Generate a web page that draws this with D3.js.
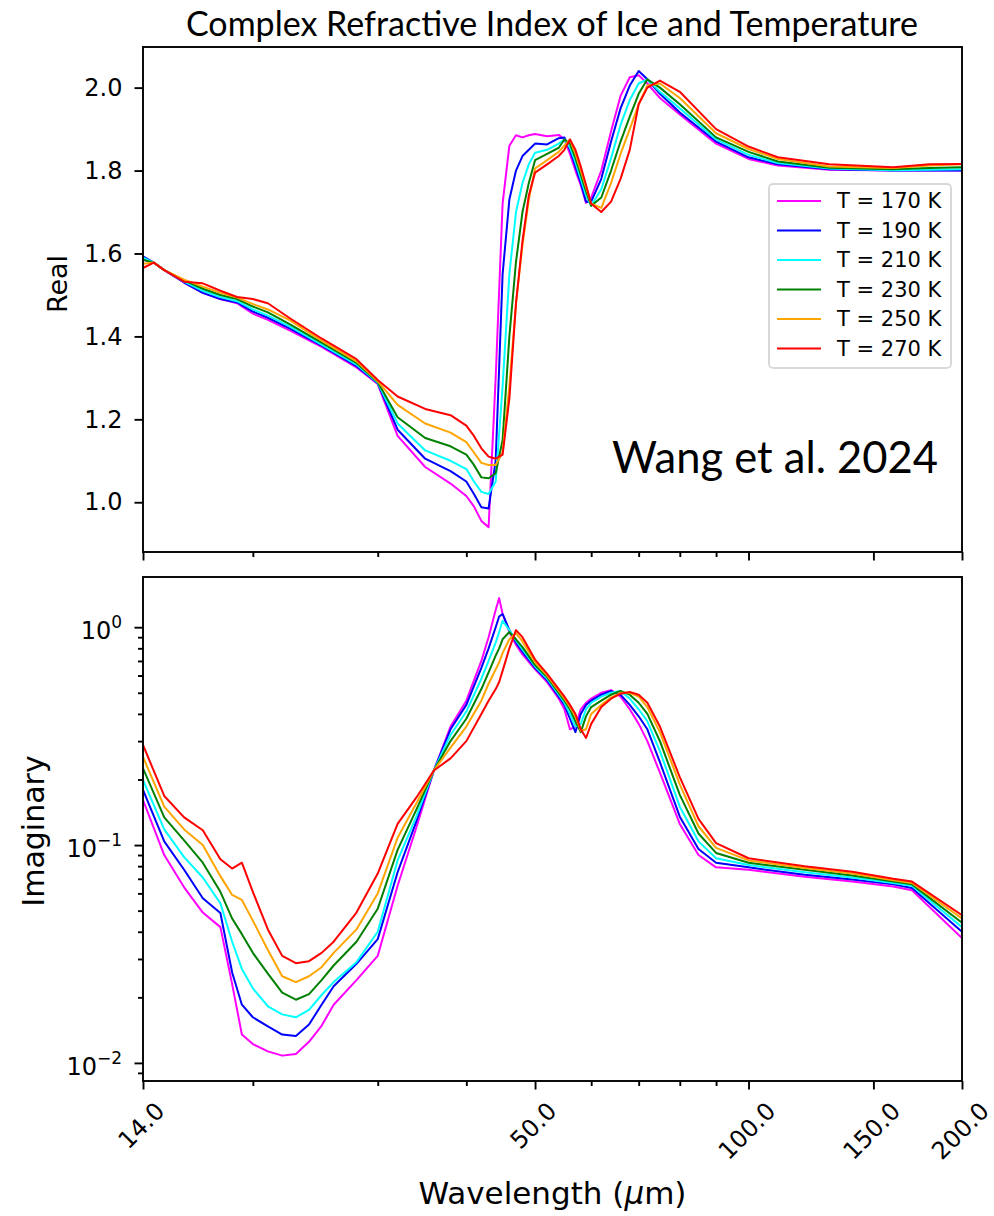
<!DOCTYPE html>
<html>
<head>
<meta charset="utf-8">
<script src="https://cdn.jsdelivr.net/npm/d3@7"></script>
<style>
  body { margin: 0; background: #fff; }
  .axis text { font-family: "DejaVu Sans", sans-serif; font-size: 24px; fill: #000; }
  .axis line { stroke: #000; stroke-width: 1.9; }
  .axis path { display: none; }
</style>
</head>
<body>
<div class="chart"></div>
<script>
// temperatures and line colours
const temps = [170, 190, 210, 230, 250, 270];
const colors = ["#ff00ff", "#0000ff", "#00ffff", "#008000", "#ffa500", "#ff0000"];

// x ticks
const xMajor = [14, 50, 100, 150, 200];
const xMinor = [20, 30, 40, 60, 70, 80, 90];
const realTicks = [1.0, 1.2, 1.4, 1.6, 1.8, 2.0];
const imagTicks = [1, 0.1, 0.01];
const imagTickExp = ["0", "\u22121", "\u22122"];

// real part, wavelength grid (um)
const wlReal = [14, 14.5, 15, 16, 17, 18, 19, 20, 21, 22.5, 25, 28, 30, 32, 35, 38, 40, 41, 42, 43,
  44, 45, 46, 47, 48, 49, 50, 52, 54, 55, 56, 57, 58, 59, 60, 62, 64, 66, 68, 70,
  72, 75, 80, 90, 100, 110, 130, 160, 180, 200];
const real170 = [1.585, 1.578, 1.56, 1.53, 1.505, 1.49, 1.48, 1.455, 1.44, 1.415, 1.375, 1.325, 1.285, 1.16, 1.085, 1.045, 1.015, 0.99, 0.955, 0.94,
  1.30, 1.72, 1.86, 1.885, 1.88, 1.885, 1.888, 1.883, 1.886, 1.875, 1.84, 1.80, 1.765, 1.722, 1.735, 1.80, 1.895, 1.98, 2.025, 2.03,
  2.01, 1.975, 1.935, 1.865, 1.828, 1.812, 1.802, 1.80, 1.80, 1.80];
const real190 = [1.593, 1.578, 1.56, 1.53, 1.505, 1.49, 1.482, 1.46, 1.445, 1.42, 1.378, 1.328, 1.287, 1.175, 1.105, 1.075, 1.05, 1.02, 0.988, 0.985,
  1.10, 1.55, 1.73, 1.80, 1.835, 1.85, 1.865, 1.863, 1.878, 1.88, 1.85, 1.81, 1.77, 1.725, 1.725, 1.78, 1.87, 1.95, 2.005, 2.04,
  2.02, 1.985, 1.94, 1.87, 1.832, 1.815, 1.803, 1.80, 1.80, 1.80];
const real210 = [1.59, 1.578, 1.56, 1.532, 1.51, 1.495, 1.485, 1.465, 1.45, 1.425, 1.38, 1.332, 1.288, 1.19, 1.125, 1.10, 1.08, 1.05, 1.025, 1.02,
  1.05, 1.28, 1.55, 1.70, 1.77, 1.815, 1.843, 1.85, 1.865, 1.875, 1.855, 1.82, 1.78, 1.74, 1.715, 1.755, 1.83, 1.91, 1.97, 2.01,
  2.02, 1.99, 1.95, 1.875, 1.838, 1.818, 1.805, 1.801, 1.802, 1.803];
const real230 = [1.585, 1.578, 1.56, 1.535, 1.515, 1.50, 1.49, 1.472, 1.458, 1.43, 1.385, 1.336, 1.29, 1.205, 1.155, 1.135, 1.115, 1.09, 1.06, 1.058,
  1.07, 1.15, 1.40, 1.58, 1.70, 1.77, 1.825, 1.84, 1.855, 1.875, 1.865, 1.83, 1.79, 1.75, 1.715, 1.735, 1.80, 1.87, 1.93, 1.985,
  2.02, 2.0, 1.96, 1.88, 1.845, 1.822, 1.807, 1.803, 1.806, 1.808];
const real250 = [1.575, 1.578, 1.56, 1.537, 1.52, 1.505, 1.494, 1.478, 1.465, 1.44, 1.39, 1.34, 1.292, 1.235, 1.19, 1.168, 1.145, 1.12, 1.095, 1.09,
  1.09, 1.12, 1.28, 1.48, 1.62, 1.73, 1.805, 1.825, 1.845, 1.86, 1.875, 1.84, 1.80, 1.76, 1.72, 1.71, 1.77, 1.84, 1.90, 1.96,
  2.005, 2.01, 1.975, 1.89, 1.852, 1.828, 1.81, 1.806, 1.812, 1.815];
const real270 = [1.565, 1.578, 1.56, 1.532, 1.528, 1.51, 1.495, 1.49, 1.48, 1.445, 1.395, 1.345, 1.295, 1.255, 1.225, 1.21, 1.185, 1.16, 1.13, 1.11,
  1.105, 1.115, 1.25, 1.48, 1.63, 1.74, 1.795, 1.815, 1.835, 1.85, 1.875, 1.85, 1.81, 1.765, 1.72, 1.70, 1.725, 1.78, 1.85, 1.96,
  2.0, 2.017, 1.99, 1.90, 1.858, 1.832, 1.815, 1.808, 1.815, 1.816];

// imaginary part, wavelength grid (um)
const wlImag = [14, 15, 16, 17, 18, 18.7, 19.3, 20, 21, 22, 23, 24, 25, 26, 28, 30, 32, 34, 36, 38,
  40, 42, 43, 44, 44.5, 45, 46, 47, 48, 50, 52, 54, 55, 56, 57, 58, 59, 60, 62, 64,
  66, 68, 70, 72, 75, 80, 85, 90, 100, 120, 140, 160, 170, 200];
const imag170 = [0.161, 0.090, 0.064, 0.049, 0.042, 0.023, 0.0135, 0.0122, 0.0113, 0.0108, 0.0110, 0.0125, 0.0148, 0.0185, 0.024, 0.031, 0.065, 0.12, 0.22, 0.35,
  0.46, 0.70, 0.90, 1.20, 1.36, 1.15, 0.95, 0.83, 0.75, 0.64, 0.56, 0.47, 0.42, 0.34, 0.35, 0.42, 0.45, 0.47, 0.50, 0.514,
  0.48, 0.42, 0.36, 0.30, 0.215, 0.125, 0.090, 0.079, 0.077, 0.0715, 0.068, 0.0645, 0.062, 0.0374];
const imag190 = [0.179, 0.104, 0.077, 0.057, 0.0488, 0.026, 0.0185, 0.0162, 0.0147, 0.0135, 0.0133, 0.0150, 0.0185, 0.0225, 0.0285, 0.037, 0.075, 0.128, 0.22, 0.34,
  0.44, 0.65, 0.80, 1.00, 1.12, 1.15, 0.97, 0.85, 0.77, 0.65, 0.57, 0.48, 0.44, 0.38, 0.33, 0.40, 0.44, 0.46, 0.49, 0.51,
  0.49, 0.44, 0.39, 0.34, 0.24, 0.135, 0.096, 0.083, 0.079, 0.073, 0.0695, 0.066, 0.0635, 0.040];
const imag210 = [0.199, 0.118, 0.088, 0.071, 0.054, 0.036, 0.027, 0.022, 0.0182, 0.0167, 0.0162, 0.0175, 0.0205, 0.0235, 0.029, 0.040, 0.085, 0.135, 0.22, 0.32,
  0.41, 0.58, 0.70, 0.85, 0.95, 1.07, 0.97, 0.87, 0.79, 0.66, 0.58, 0.49, 0.45, 0.40, 0.35, 0.36, 0.42, 0.45, 0.48, 0.50,
  0.51, 0.47, 0.42, 0.37, 0.27, 0.15, 0.104, 0.087, 0.081, 0.075, 0.071, 0.067, 0.065, 0.042];
const imag230 = [0.225, 0.134, 0.105, 0.083, 0.061, 0.046, 0.039, 0.032, 0.0257, 0.021, 0.0195, 0.0207, 0.024, 0.028, 0.036, 0.051, 0.095, 0.145, 0.22, 0.30,
  0.38, 0.52, 0.62, 0.74, 0.80, 0.88, 0.95, 0.88, 0.81, 0.67, 0.59, 0.50, 0.46, 0.42, 0.37, 0.33, 0.39, 0.43, 0.46, 0.49,
  0.51, 0.49, 0.45, 0.40, 0.30, 0.17, 0.113, 0.092, 0.083, 0.077, 0.0725, 0.068, 0.066, 0.044];
const imag250 = [0.254, 0.150, 0.118, 0.100, 0.072, 0.059, 0.056, 0.045, 0.033, 0.025, 0.0235, 0.025, 0.0275, 0.032, 0.041, 0.060, 0.108, 0.155, 0.22, 0.28,
  0.35, 0.46, 0.55, 0.64, 0.69, 0.76, 0.88, 0.94, 0.86, 0.69, 0.60, 0.51, 0.47, 0.43, 0.39, 0.335, 0.34, 0.40, 0.44, 0.475,
  0.50, 0.50, 0.48, 0.43, 0.33, 0.19, 0.122, 0.097, 0.085, 0.0785, 0.074, 0.069, 0.067, 0.046];
const imag270 = [0.288, 0.168, 0.134, 0.117, 0.086, 0.078, 0.083, 0.061, 0.041, 0.031, 0.0287, 0.0293, 0.032, 0.036, 0.049, 0.074, 0.125, 0.165, 0.22, 0.25,
  0.30, 0.40, 0.46, 0.52, 0.56, 0.63, 0.80, 0.97, 0.90, 0.71, 0.61, 0.52, 0.48, 0.44, 0.40, 0.34, 0.31, 0.36, 0.43, 0.47,
  0.495, 0.504, 0.49, 0.45, 0.35, 0.205, 0.132, 0.102, 0.087, 0.080, 0.0755, 0.070, 0.068, 0.0477];

const realSeries = [real170, real190, real210, real230, real250, real270];
const imagSeries = [imag170, imag190, imag210, imag230, imag250, imag270];

const width = 994, height = 1216;
const left = 143, right = 962;
const realTop = 47, realBottom = 552;
const imagTop = 577, imagBottom = 1081;

const svg = d3.select(".chart").append("svg")
  .attr("width", width)
  .attr("height", height);

const xScale = d3.scaleLog().domain([14, 200]).range([left, right]);
const yReal = d3.scaleLinear().domain([0.88, 2.098]).range([realBottom, realTop]);
const yImag = d3.scaleLog().domain([0.00826, 1.70]).range([imagBottom, imagTop]);

// clip paths
const defs = svg.append("defs");
defs.append("clipPath").attr("id", "clipReal").append("rect")
  .attr("x", left).attr("y", realTop).attr("width", right - left).attr("height", realBottom - realTop);
defs.append("clipPath").attr("id", "clipImag").append("rect")
  .attr("x", left).attr("y", imagTop).attr("width", right - left).attr("height", imagBottom - imagTop);

// curves
const lineReal = d3.line().x(d => xScale(d[0])).y(d => yReal(d[1]));
const lineImag = d3.line().x(d => xScale(d[0])).y(d => yImag(d[1]));

svg.append("g").attr("clip-path", "url(#clipReal)")
  .selectAll("path")
  .data(realSeries)
  .enter()
  .append("path")
  .attr("d", s => lineReal(s.map((v, i) => [wlReal[i], v])))
  .attr("fill", "none")
  .attr("stroke", (s, i) => colors[i])
  .attr("stroke-width", 2)
  .attr("stroke-linejoin", "round");

svg.append("g").attr("clip-path", "url(#clipImag)")
  .selectAll("path")
  .data(imagSeries)
  .enter()
  .append("path")
  .attr("d", s => lineImag(s.map((v, i) => [wlImag[i], v])))
  .attr("fill", "none")
  .attr("stroke", (s, i) => colors[i])
  .attr("stroke-width", 2)
  .attr("stroke-linejoin", "round");

// frames
[[realTop, realBottom], [imagTop, imagBottom]].forEach(p => {
  svg.append("rect")
    .attr("x", left).attr("y", p[0])
    .attr("width", right - left).attr("height", p[1] - p[0])
    .attr("fill", "none").attr("stroke", "#000").attr("stroke-width", 1.9);
});

// x axes (top panel: ticks only)
svg.append("g").attr("class", "axis")
  .attr("transform", `translate(0,${realBottom})`)
  .call(d3.axisBottom(xScale).tickValues(xMajor).tickSize(8.5).tickFormat(""));
svg.append("g").attr("class", "axis")
  .attr("transform", `translate(0,${realBottom})`)
  .call(d3.axisBottom(xScale).tickValues(xMinor).tickSize(5).tickFormat(""));

svg.append("g").attr("class", "axis")
  .attr("transform", `translate(0,${imagBottom})`)
  .call(d3.axisBottom(xScale).tickValues(xMinor).tickSize(5).tickFormat(""));
const xAxisBottom = svg.append("g").attr("class", "axis")
  .attr("transform", `translate(0,${imagBottom})`)
  .call(d3.axisBottom(xScale).tickValues(xMajor).tickSize(8.5).tickFormat(d3.format(".1f")));
xAxisBottom.selectAll("text")
  .attr("y", null).attr("dy", null)
  .attr("font-size", "22px")
  .attr("text-anchor", "middle")
  .attr("dominant-baseline", "central")
  .attr("transform", function() {
    const w = this.getComputedTextLength();
    return `translate(-2,${18 + (w + 22) * 0.354}) rotate(-45)`;
  });

// y axis real
svg.append("g").attr("class", "axis")
  .attr("transform", `translate(${left},0)`)
  .call(d3.axisLeft(yReal).tickValues(realTicks).tickSize(8.5).tickPadding(12).tickFormat(d3.format(".1f")));

// y axis imaginary (log)
const minorImag = [];
[0.001, 0.01, 0.1, 1].forEach(dec => {
  for (let k = 2; k <= 9; k++) {
    const v = dec * k;
    if (v > yImag.domain()[0] && v < yImag.domain()[1]) minorImag.push(v);
  }
});
svg.append("g").attr("class", "axis")
  .attr("transform", `translate(${left},0)`)
  .call(d3.axisLeft(yImag).tickValues(minorImag).tickSize(5).tickFormat(""));
svg.append("g").attr("class", "axis")
  .attr("transform", `translate(${left},0)`)
  .call(d3.axisLeft(yImag).tickValues(imagTicks).tickSize(8.5).tickFormat(""));

const imagLabels = svg.append("g").attr("class", "axis");
imagTicks.forEach((t, i) => {
  const txt = imagLabels.append("text")
    .attr("x", left - 21)
    .attr("y", yImag(t) + 12)
    .attr("text-anchor", "end");
  txt.append("tspan").text("10");
  txt.append("tspan").attr("dy", -11).attr("font-size", "17px").text(imagTickExp[i]);
});

// axis labels
svg.append("text")
  .attr("transform", "translate(67,284) rotate(-90)")
  .attr("text-anchor", "middle")
  .attr("font-family", "DejaVu Sans").attr("font-size", "27px")
  .text("Real");
svg.append("text")
  .attr("transform", `translate(44,${(imagTop + imagBottom) / 2 + 2}) rotate(-90)`)
  .attr("text-anchor", "middle")
  .attr("font-family", "DejaVu Sans").attr("font-size", "30px")
  .text("Imaginary");
const xl = svg.append("text")
  .attr("x", (left + right) / 2).attr("y", 1204)
  .attr("text-anchor", "middle")
  .attr("font-family", "DejaVu Sans").attr("font-size", "31px");
xl.append("tspan").text("Wavelength (");
xl.append("tspan").attr("font-style", "italic").text("\u03bc");
xl.append("tspan").text("m)");

// title and annotation
svg.append("text")
  .attr("x", 552).attr("y", 36)
  .attr("text-anchor", "middle")
  .attr("font-family", "Lato").attr("font-size", "34px")
  .text("Complex Refractive Index of Ice and Temperature");
svg.append("text")
  .attr("x", 938).attr("y", 473)
  .attr("text-anchor", "end")
  .attr("font-family", "Lato").attr("font-size", "43.5px")
  .text("Wang et al. 2024");

// legend
const legend = svg.append("g").attr("transform", "translate(769,184)");
legend.append("rect")
  .attr("width", 182).attr("height", 184).attr("rx", 4)
  .attr("fill", "#fff").attr("fill-opacity", 0.8)
  .attr("stroke", "#cccccc").attr("stroke-width", 1.5);
legend.selectAll("line")
  .data(temps)
  .enter()
  .append("line")
  .attr("x1", 8).attr("x2", 52)
  .attr("y1", (d, i) => 17 + i * 29.5).attr("y2", (d, i) => 17 + i * 29.5)
  .attr("stroke", (d, i) => colors[i]).attr("stroke-width", 2);
legend.selectAll("text")
  .data(temps)
  .enter()
  .append("text")
  .attr("x", 68).attr("y", (d, i) => 17 + i * 29.5)
  .attr("dominant-baseline", "central")
  .attr("font-family", "DejaVu Sans").attr("font-size", "21px")
  .text(d => `T = ${d} K`);
</script>
</body>
</html>
